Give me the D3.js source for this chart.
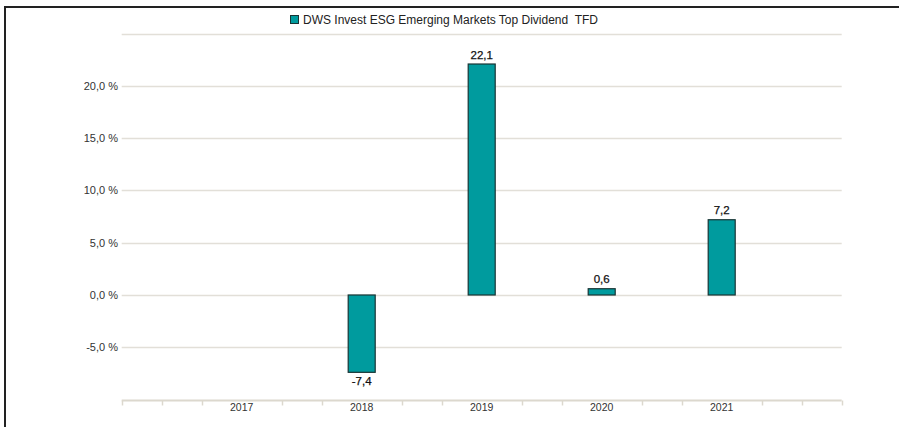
<!DOCTYPE html>
<html>
<head>
<meta charset="utf-8">
<script src="https://cdn.jsdelivr.net/npm/d3@7"></script>
<style>
  body { margin: 0; background: #fff; }
  text { font-family: Arial, "Liberation Sans", sans-serif; }
</style>
</head>
<body>
<script>
// data
const years = ["2017", "2018", "2019", "2020", "2021"];
const values = [null, -7.4, 22.1, 0.6, 7.2];
const seriesName = "DWS Invest ESG Emerging Markets Top Dividend  TFD";
const yTicks = [-5, 0, 5, 10, 15, 20];
const yGrid = [-5, 0, 5, 10, 15, 20, 25];

const width = 899, height = 427;
const barColor = "#009b9e";
const gridColor = "#e2dfd8";
const axisColor = "#dcd8ce";

// german style numbers, plain hyphen for minus
const locale = d3.formatLocale({ decimal: ",", thousands: ".", grouping: [3], currency: ["", " €"], minus: "-" });
const fmtPct = v => locale.format(".1f")(v) + " %";
const fmtVal = locale.format(".1f");

const svg = d3.select("body").append("svg")
  .attr("width", width)
  .attr("height", height);

// frame (top + left only)
svg.append("path")
  .attr("d", `M5,${height} L5,7 L${width},7`)
  .attr("fill", "none")
  .attr("stroke", "#222")
  .attr("stroke-width", 2);

const plotLeft = 121.7, plotRight = 841.7;

// scales
const x = d3.scalePoint()
  .domain(years)
  .range([plotLeft, plotRight])
  .padding(1);

const y = d3.scaleLinear()
  .domain([-10, 25])
  .range([399.5, 33.7]);

// gridlines
svg.append("g")
  .selectAll("line")
  .data(yGrid)
  .enter()
  .append("line")
  .attr("x1", plotLeft)
  .attr("x2", plotRight)
  .attr("y1", d => Math.round(y(d)) + 0.5)
  .attr("y2", d => Math.round(y(d)) + 0.5)
  .attr("stroke", gridColor)
  .attr("stroke-width", 1.5);

// y labels
svg.append("g")
  .selectAll("text")
  .data(yTicks)
  .enter()
  .append("text")
  .attr("x", 118)
  .attr("y", d => y(d) + 4)
  .attr("text-anchor", "end")
  .attr("font-size", 11)
  .attr("fill", "#333")
  .text(d => fmtPct(d));

// x axis line
const axisY = Math.round(y(-10)) + 0.5;
svg.append("line")
  .attr("x1", plotLeft)
  .attr("x2", plotRight)
  .attr("y1", axisY)
  .attr("y2", axisY)
  .attr("stroke", axisColor)
  .attr("stroke-width", 2);

// minor ticks every third of a step, skipped under the year labels
const idx = d3.scaleLinear().domain([0, years.length + 1]).range([plotLeft, plotRight]);
const minor = d3.range(0, (years.length + 1) * 3 + 1)
  .filter(i => i % 3 !== 0 || i === 0 || i === (years.length + 1) * 3)
  .map(i => i / 3);
svg.append("g")
  .selectAll("line")
  .data(minor)
  .enter()
  .append("line")
  .attr("x1", d => Math.round(idx(d)) + 0.5)
  .attr("x2", d => Math.round(idx(d)) + 0.5)
  .attr("y1", axisY)
  .attr("y2", axisY + 5)
  .attr("stroke", axisColor)
  .attr("stroke-width", 1.5);

// year labels
svg.append("g")
  .selectAll("text")
  .data(years)
  .enter()
  .append("text")
  .attr("x", d => x(d))
  .attr("y", axisY + 10)
  .attr("text-anchor", "middle")
  .attr("font-size", 10.5)
  .attr("fill", "#333")
  .text(d => d);

// bars
const barW = 27;
const rows = years.map((yr, i) => ({ year: yr, value: values[i] })).filter(d => d.value !== null);

svg.append("g")
  .selectAll("rect")
  .data(rows)
  .enter()
  .append("rect")
  .attr("x", d => x(d.year) - barW / 2)
  .attr("y", d => y(Math.max(0, d.value)))
  .attr("width", barW)
  .attr("height", d => Math.abs(y(d.value) - y(0)))
  .attr("fill", barColor)
  .attr("stroke", "#183434")
  .attr("stroke-width", 1.2);

// value labels
svg.append("g")
  .selectAll("text")
  .data(rows)
  .enter()
  .append("text")
  .attr("x", d => x(d.year))
  .attr("y", d => d.value >= 0 ? y(d.value) - 5.5 : y(d.value) + 12.5)
  .attr("text-anchor", "middle")
  .attr("font-size", 11.5)
  .attr("fill", "#111")
  .attr("stroke", "#111")
  .attr("stroke-width", 0.25)
  .text(d => fmtVal(d.value));

// legend
const legend = svg.append("g");
legend.append("rect")
  .attr("x", 290.5)
  .attr("y", 15.5)
  .attr("width", 8)
  .attr("height", 8)
  .attr("fill", barColor)
  .attr("stroke", "#183434")
  .attr("stroke-width", 1);
legend.append("text")
  .attr("x", 303)
  .attr("y", 23.5)
  .attr("font-size", 12)
  .attr("fill", "#222")
  .style("white-space", "pre")
  .text(seriesName);
</script>
</body>
</html>
